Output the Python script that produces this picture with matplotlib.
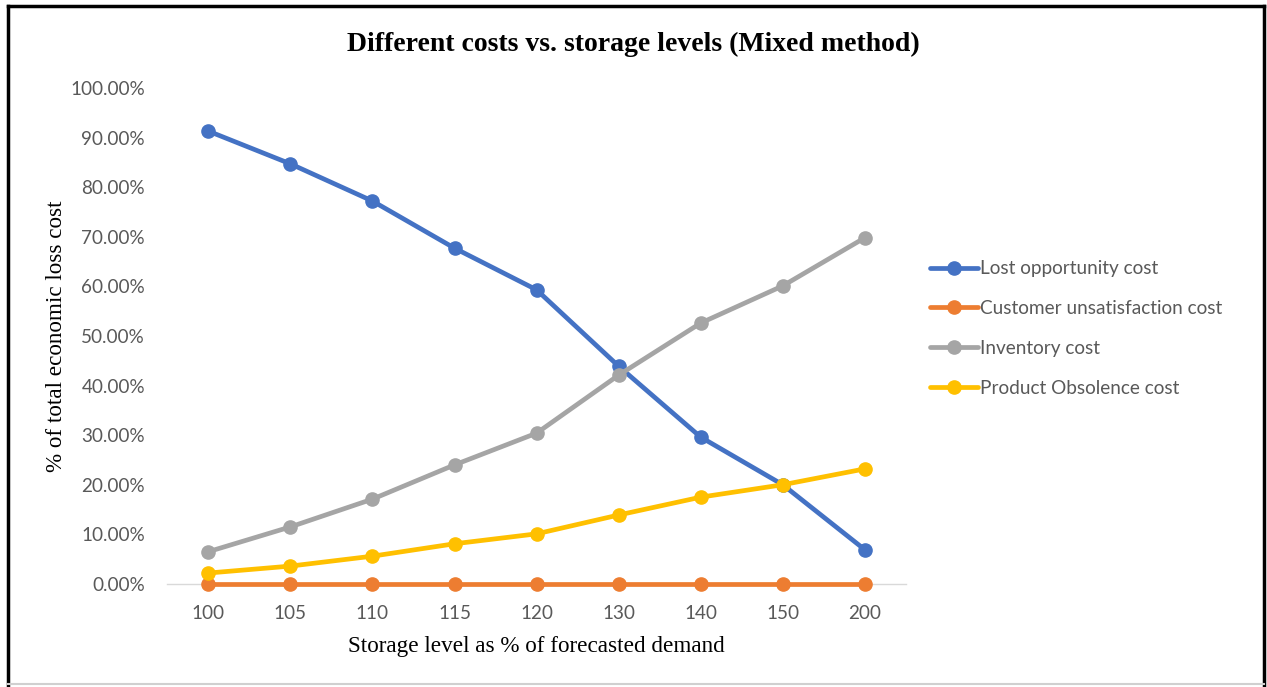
import matplotlib
matplotlib.use("Agg")
import matplotlib.pyplot as plt
from matplotlib.lines import Line2D

# data
storage_levels = ['100', '105', '110', '115', '120', '130', '140', '150', '200']
lost_opportunity = [91.3, 84.7, 77.2, 67.7, 59.3, 43.9, 29.6, 20.0, 6.9]
customer_unsat = [0, 0, 0, 0, 0, 0, 0, 0, 0]
inventory = [6.5, 11.5, 17.1, 24.0, 30.4, 42.1, 52.6, 60.1, 69.8]
obsolescence = [2.2, 3.6, 5.6, 8.1, 10.1, 13.9, 17.5, 20.0, 23.2]

series_names = ['Lost opportunity cost', 'Customer unsatisfaction cost',
                'Inventory cost', 'Product Obsolence cost']
colors = ['#4472C4', '#ED7D31', '#A5A5A5', '#FFC000']
yticks = [0, 10, 20, 30, 40, 50, 60, 70, 80, 90, 100]

sans = ['Lato', 'DejaVu Sans']
serif = 'Liberation Serif'

fig = plt.figure(figsize=(12.67, 6.87), dpi=100)
ax = fig.add_axes([0.132, 0.150, 0.583, 0.722])

x = list(range(len(storage_levels)))
for vals, name, c in zip([lost_opportunity, customer_unsat, inventory, obsolescence],
                         series_names, colors):
    ax.plot(x, vals, color=c, lw=3.4, marker='o', markersize=9.5,
            label=name, solid_capstyle='round', clip_on=False)

ax.set_xlim(-0.5, len(storage_levels) - 0.5)
ax.set_ylim(0, 100)
ax.set_xticks(x)
ax.set_xticklabels(storage_levels)
ax.set_yticks(yticks)
ax.set_yticklabels(['%.2f%%' % v for v in yticks])
ax.tick_params(axis='y', length=0, colors='#595959', labelsize=13.6, pad=16)
ax.tick_params(axis='x', length=0, colors='#595959', labelsize=13.6, pad=15)
for lab in ax.get_xticklabels() + ax.get_yticklabels():
    lab.set_family(sans)

for s in ['top', 'right', 'left']:
    ax.spines[s].set_visible(False)
ax.spines['bottom'].set_color('#D9D9D9')
ax.spines['bottom'].set_linewidth(1.0)
ax.spines['bottom'].set_zorder(0)

ax.set_xlabel('Storage level as % of forecasted demand', family=serif,
              fontsize=16.7, labelpad=10)
ax.set_ylabel('% of total economic loss cost', family=serif, fontsize=16.7,
              labelpad=2)
fig.text(0.5, 0.935, 'Different costs vs. storage levels (Mixed method)',
         family=serif, fontweight='bold', fontsize=20, ha='center', va='center')

leg = ax.legend(loc='center left', bbox_to_anchor=(1.01, 0.515), frameon=False,
                prop={'family': sans, 'size': 13.7}, handlelength=2.5,
                handletextpad=0.1, labelspacing=1.2)
for t in leg.get_texts():
    t.set_color('#595959')

# outer frame
fig.add_artist(Line2D([0.006, 0.998], [0.991, 0.991], color='black', lw=2.5))
fig.add_artist(Line2D([0.006, 0.006], [0.003, 0.991], color='black', lw=2.5))
fig.add_artist(Line2D([0.998, 0.998], [0.003, 0.991], color='black', lw=2.5))
fig.add_artist(Line2D([0.006, 0.998], [0.004, 0.004], color='#D0D0D0', lw=1.5))

plt.savefig('out.png', dpi=100)
